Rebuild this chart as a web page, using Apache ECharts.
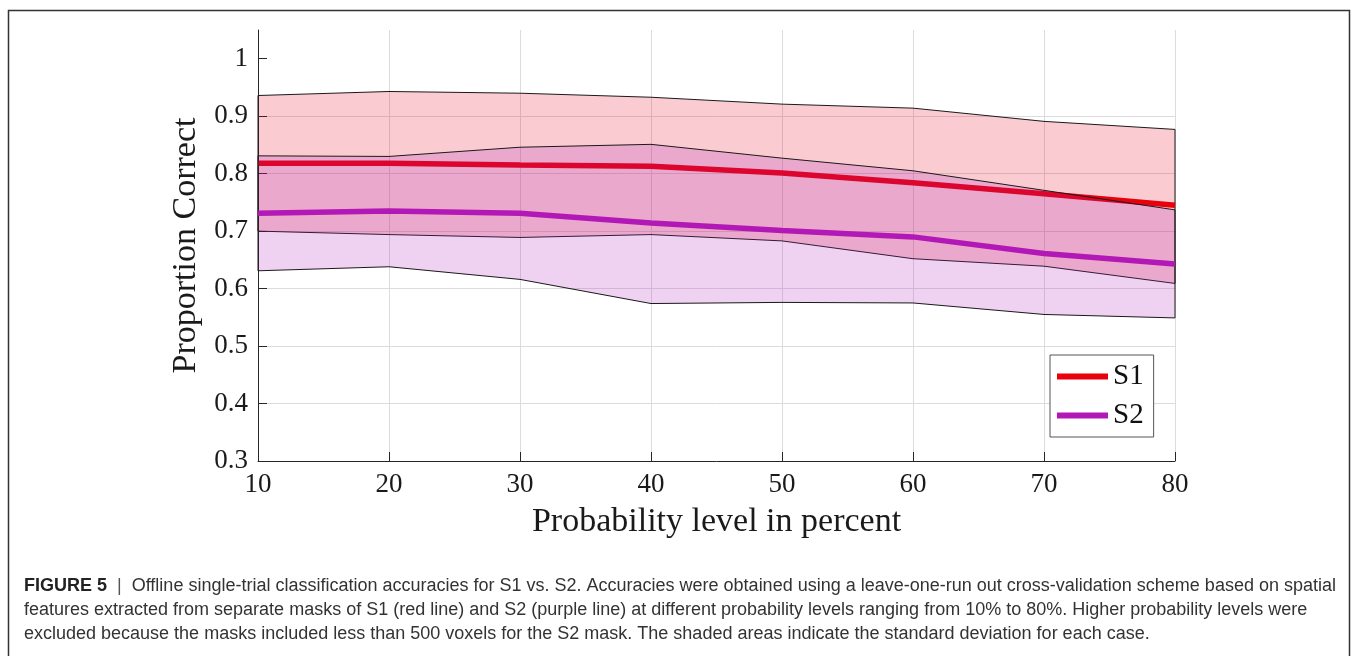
<!DOCTYPE html>
<html><head><meta charset="utf-8">
<script src="https://cdn.jsdelivr.net/npm/echarts@6/dist/echarts.min.js"></script>
<style>html,body{margin:0;padding:0;background:#fff}#c{width:1354px;height:656px}</style>
</head><body><div id="c"></div>
<script>
// ---- data ----
const levels  = [10, 20, 30, 40, 50, 60, 70, 80];
const s1Mean  = [0.818, 0.818, 0.815, 0.813, 0.801, 0.784, 0.765, 0.745];
const s1Upper = [0.936, 0.943, 0.940, 0.933, 0.921, 0.914, 0.891, 0.877];
const s1Lower = [0.700, 0.694, 0.689, 0.694, 0.683, 0.652, 0.639, 0.609];
const s2Mean  = [0.731, 0.735, 0.731, 0.714, 0.701, 0.690, 0.661, 0.643];
const s2Upper = [0.831, 0.830, 0.846, 0.851, 0.827, 0.805, 0.771, 0.737];
const s2Lower = [0.631, 0.638, 0.616, 0.574, 0.576, 0.575, 0.555, 0.549];
const yTicks  = [0.3, 0.4, 0.5, 0.6, 0.7, 0.8, 0.9, 1];
const xTicks  = [10, 20, 30, 40, 50, 60, 70, 80];
const seriesNames = ['S1', 'S2'];
const xTitle = 'Probability level in percent';
const yTitle = 'Proportion Correct';
const captionLabel = 'FIGURE 5';
const captionLines = [
  'Offline single-trial classification accuracies for S1 vs. S2. Accuracies were obtained using a leave-one-run out cross-validation scheme based on spatial',
  'features extracted from separate masks of S1 (red line) and S2 (purple line) at different probability levels ranging from 10% to 80%. Higher probability levels were',
  'excluded because the masks included less than 500 voxels for the S2 mask. The shaded areas indicate the standard deviation for each case.'
];

// ---- styles ----
const SERIF = '"Liberation Serif", "DejaVu Serif", serif';
const SANS = '"Liberation Sans", Arial, sans-serif';
const RED = '#e8000b';
const PURPLE = '#b218b6';
const AXIS = '#262626';

function band(name, upper, lower, fill, z) {
  return {
    type: 'custom', name: name, z: z, silent: true,
    data: [[levels[0], upper[0]]],
    renderItem: function (params, api) {
      const pts = [];
      for (let i = 0; i < levels.length; i++) pts.push(api.coord([levels[i], upper[i]]));
      for (let i = levels.length - 1; i >= 0; i--) pts.push(api.coord([levels[i], lower[i]]));
      return { type: 'polygon', shape: { points: pts },
        style: { fill: fill, stroke: '#1a1a1a', lineWidth: 1 } };
    }
  };
}
function meanLine(name, vals, color, z) {
  return {
    type: 'line', name: name, z: z, silent: true,
    data: levels.map((x, i) => [x, vals[i]]),
    showSymbol: false, symbol: 'none',
    lineStyle: { color: color, width: 5.5 },
    itemStyle: { color: color }
  };
}

const chart = echarts.init(document.getElementById('c'), null, { renderer: 'canvas' });
chart.setOption({
  animation: false,
  backgroundColor: '#fff',
  grid: { left: 258, right: 179, top: 30, bottom: 195, containLabel: false },
  xAxis: {
    type: 'value', min: 10, max: 80, interval: 10,
    name: xTitle, nameLocation: 'middle', nameGap: 44,
    nameTextStyle: { fontFamily: SERIF, fontSize: 34, color: '#1a1a1a' },
    axisLine: { lineStyle: { color: AXIS, width: 1 } },
    axisTick: { inside: true, length: 9, lineStyle: { color: AXIS }, customValues: xTicks },
    axisLabel: { fontFamily: SERIF, fontSize: 27, color: '#1a1a1a', margin: 10, customValues: xTicks },
    splitLine: { show: true, lineStyle: { color: '#dcdcdc', width: 1 } }
  },
  yAxis: {
    type: 'value', min: 0.3, max: 1.05, interval: 0.1,
    name: yTitle, nameLocation: 'middle', nameGap: 55,
    nameTextStyle: { fontFamily: SERIF, fontSize: 34, color: '#1a1a1a' },
    axisLine: { show: true, lineStyle: { color: AXIS, width: 1 } },
    axisTick: { show: true, inside: true, length: 9, lineStyle: { color: AXIS }, customValues: yTicks },
    axisLabel: { fontFamily: SERIF, fontSize: 27, color: '#1a1a1a', margin: 10, customValues: yTicks,
      formatter: v => String(+v.toFixed(2)) },
    splitLine: { show: true, showMaxLine: false, lineStyle: { color: '#dcdcdc', width: 1 } }
  },
  legend: {
    data: seriesNames, orient: 'vertical', left: 1050, top: 355, z: 10,
    padding: [7, 10, 7, 7], itemGap: 10, itemWidth: 51, itemHeight: 6, icon: 'rect',
    backgroundColor: '#fff', borderColor: '#555', borderWidth: 1, borderRadius: 0,
    textStyle: { fontFamily: SERIF, fontSize: 29, color: '#111' },
    selectedMode: false
  },
  series: [
    band('S1 band', s1Upper, s1Lower, 'rgba(232,0,30,0.2)', 1),
    meanLine(seriesNames[0], s1Mean, RED, 2),
    band('S2 band', s2Upper, s2Lower, 'rgba(176,26,184,0.2)', 3),
    meanLine(seriesNames[1], s2Mean, PURPLE, 4)
  ],
  graphic: [
    { type: 'rect', silent: true, z: 20,
      shape: { x: 8.5, y: 10.5, width: 1341, height: 720 },
      style: { fill: 'none', stroke: '#333', lineWidth: 1.5 } },
    { type: 'text', silent: true, z: 20, x: 24, y: 586,
      style: { text: '{b|' + captionLabel + '}{s|  |  }{n|' + captionLines[0] + '}',
        verticalAlign: 'middle', font: '18px ' + SANS, fill: '#333',
        rich: {
          b: { fontFamily: SANS, fontSize: 18, fontWeight: 'bold', fill: '#222' },
          s: { fontFamily: SANS, fontSize: 18, fill: '#555' },
          n: { fontFamily: SANS, fontSize: 18, fill: '#333' }
        } } },
    { type: 'text', silent: true, z: 20, x: 24, y: 610,
      style: { text: captionLines[1], verticalAlign: 'middle', font: '18px ' + SANS, fill: '#333' } },
    { type: 'text', silent: true, z: 20, x: 24, y: 634,
      style: { text: captionLines[2], verticalAlign: 'middle', font: '18px ' + SANS, fill: '#333' } }
  ]
});
</script></body></html>
